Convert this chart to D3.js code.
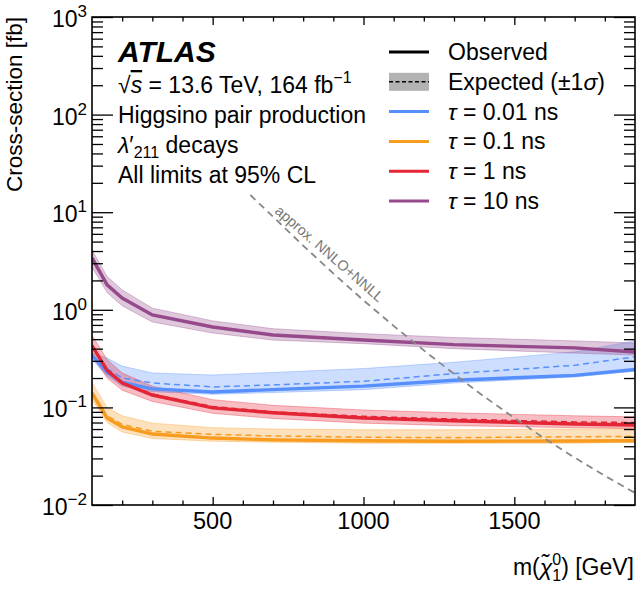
<!DOCTYPE html>
<html>
<head>
<meta charset="utf-8">
<script src="https://cdn.jsdelivr.net/npm/d3@7"></script>
<style>
  body { margin: 0; background: #fff; }
  svg text { font-family: "Liberation Sans", Arial, Helvetica, sans-serif; fill: #000; }
</style>
</head>
<body>
<svg id="chart" width="641" height="591"></svg>
<script>
// masses (GeV) where the limits were evaluated
const masses = [100, 150, 200, 300, 500, 700, 1000, 1300, 1700, 1900];

// tau = 0.01 ns
const obs001 = [0.34, 0.23, 0.18, 0.155, 0.144, 0.152, 0.165, 0.19, 0.213, 0.245];
const exp001 = [0.34, 0.25, 0.2, 0.178, 0.162, 0.17, 0.185, 0.222, 0.27, 0.33];
const hi001 = [0.36, 0.32, 0.265, 0.225, 0.215, 0.228, 0.25, 0.29, 0.37, 0.48];
const lo001 = [0.31, 0.21, 0.165, 0.145, 0.136, 0.142, 0.152, 0.178, 0.205, 0.235];

// tau = 0.1 ns
const obs01 = [0.14, 0.078, 0.063, 0.0533, 0.0485, 0.0465, 0.0455, 0.045, 0.0453, 0.0455];
const exp01 = [0.145, 0.082, 0.067, 0.057, 0.053, 0.051, 0.0495, 0.049, 0.05, 0.0505];
const hi01 = [0.18, 0.1, 0.082, 0.069, 0.062, 0.06, 0.059, 0.059, 0.06, 0.061];
const lo01 = [0.12, 0.07, 0.056, 0.048, 0.045, 0.044, 0.043, 0.043, 0.043, 0.044];

// tau = 1 ns
const obs1 = [0.43, 0.24, 0.178, 0.134, 0.099, 0.088, 0.078, 0.073, 0.0675, 0.066];
const exp1 = [0.42, 0.245, 0.18, 0.137, 0.102, 0.09, 0.081, 0.076, 0.071, 0.07];
const hi1 = [0.55, 0.31, 0.225, 0.165, 0.12, 0.105, 0.094, 0.088, 0.082, 0.08];
const lo1 = [0.34, 0.2, 0.15, 0.115, 0.087, 0.077, 0.069, 0.065, 0.062, 0.061];

// tau = 10 ns
const obs10 = [3.4, 1.8, 1.32, 0.885, 0.667, 0.552, 0.49, 0.44, 0.407, 0.37];
const exp10 = [3.3, 1.8, 1.32, 0.88, 0.665, 0.55, 0.49, 0.44, 0.405, 0.375];
const hi10 = [4.1, 2.2, 1.6, 1.04, 0.77, 0.64, 0.57, 0.52, 0.48, 0.457];
const lo10 = [2.75, 1.5, 1.1, 0.75, 0.578, 0.49, 0.45, 0.4, 0.36, 0.344];

// theory cross-section, approx. NNLO+NNLL
const theoryMass = [625, 700, 800, 900, 1000, 1100, 1200, 1300, 1400, 1500, 1600, 1700, 1800, 1900];
const theoryXsec = [15.0, 9.0, 4.55, 2.36, 1.25, 0.684, 0.384, 0.22, 0.129, 0.078, 0.048, 0.0306, 0.0199, 0.0133];

const seriesLabels = ['0.01', '0.1', '1', '10'];
const seriesColors = ['#5790fc', '#f89c20', '#e42536', '#964a8b'];

const xTicks = [500, 1000, 1500];
const yTicks = [1e-2, 1e-1, 1, 10, 100, 1000];
const yTickExp = ['\u22122', '\u22121', '0', '1', '2', '3'];

const series = [
  { obs: obs001, exp: exp001, hi: hi001, lo: lo001 },
  { obs: obs01, exp: exp01, hi: hi01, lo: lo01 },
  { obs: obs1, exp: exp1, hi: hi1, lo: lo1 },
  { obs: obs10, exp: exp10, hi: hi10, lo: lo10 },
].map((s, i) => ({ ...s, label: seriesLabels[i], color: seriesColors[i] }));

const L = 92, R = 635, T = 17, B = 505;
const svg = d3.select('#chart');

const x = d3.scaleLinear().domain([100, 1900]).range([L, R]);
const y = d3.scaleLog().domain([0.01, 1000]).range([B, T]);

svg.append('defs').append('clipPath').attr('id', 'clip')
  .append('rect').attr('x', L).attr('y', T).attr('width', R - L).attr('height', B - T);

const plot = svg.append('g').attr('clip-path', 'url(#clip)');

const band = d3.area()
  .x((d, i) => x(masses[i]))
  .y0((d) => y(d[0]))
  .y1((d) => y(d[1]));
const line = d3.line()
  .x((d, i) => x(masses[i]))
  .y((d) => y(d));

// bands first, then expected, then observed
series.forEach((s) => {
  plot.append('path')
    .datum(s.lo.map((v, i) => [v, s.hi[i]]))
    .attr('d', band)
    .attr('fill', s.color)
    .attr('fill-opacity', 0.3)
    .attr('stroke', s.color)
    .attr('stroke-opacity', 0.35)
    .attr('stroke-width', 1);
});
series.forEach((s) => {
  plot.append('path')
    .datum(s.exp)
    .attr('d', line)
    .attr('fill', 'none')
    .attr('stroke', s.color)
    .attr('stroke-width', 1.5)
    .attr('stroke-dasharray', '6,4');
});
series.forEach((s) => {
  plot.append('path')
    .datum(s.obs)
    .attr('d', line)
    .attr('fill', 'none')
    .attr('stroke', s.color)
    .attr('stroke-width', 3.4);
});

// theory line
const thLine = d3.line()
  .x((d, i) => x(theoryMass[i]))
  .y((d) => y(d));
plot.append('path')
  .datum(theoryXsec)
  .attr('d', thLine)
  .attr('fill', 'none')
  .attr('stroke', '#888')
  .attr('stroke-width', 1.8)
  .attr('stroke-dasharray', '7,5');

const tx = (x(theoryMass[2]) + x(theoryMass[3])) / 2 + 8;
const ty = (y(theoryXsec[2]) + y(theoryXsec[3])) / 2 - 2;
svg.append('text')
  .attr('transform', `translate(${tx},${ty}) rotate(41)`)
  .attr('text-anchor', 'middle')
  .style('font-size', '14.5px')
  .style('fill', '#777')
  .text('approx. NNLO+NNLL');

// axes: ticks pointing inward on all four sides
const yMinor = [];
for (let e = -2; e < 3; e++) for (let k = 2; k < 10; k++) yMinor.push(k * Math.pow(10, e));
const xMinor = d3.range(200, 1900, 100).filter((v) => v % 500 !== 0);

function ax(axis, tr) {
  const g = svg.append('g').attr('transform', tr).call(axis);
  g.select('.domain').remove();
  g.selectAll('text').remove();
  g.selectAll('line').attr('stroke', '#000').attr('stroke-width', 1.3);
  return g;
}
ax(d3.axisLeft(y).tickValues(yTicks).tickSize(-21), `translate(${L},0)`);
ax(d3.axisLeft(y).tickValues(yMinor).tickSize(-11), `translate(${L},0)`);
ax(d3.axisRight(y).tickValues(yTicks).tickSize(-21), `translate(${R},0)`);
ax(d3.axisRight(y).tickValues(yMinor).tickSize(-11), `translate(${R},0)`);
ax(d3.axisBottom(x).tickValues(xTicks).tickSize(-8), `translate(0,${B})`);
ax(d3.axisBottom(x).tickValues(xMinor).tickSize(-4.5), `translate(0,${B})`);
ax(d3.axisTop(x).tickValues(xTicks).tickSize(-8), `translate(0,${T})`);
ax(d3.axisTop(x).tickValues(xMinor).tickSize(-4.5), `translate(0,${T})`);

svg.append('rect')
  .attr('x', L).attr('y', T).attr('width', R - L).attr('height', B - T)
  .attr('fill', 'none').attr('stroke', '#000').attr('stroke-width', 1.6);

// tick labels
svg.selectAll('.xl').data(xTicks).enter().append('text')
  .attr('x', (d) => x(d)).attr('y', B + 24)
  .attr('text-anchor', 'middle')
  .style('font-size', '23.5px')
  .text((d) => d);

yTicks.forEach((v, i) => {
  const t = svg.append('text')
    .attr('x', 87).attr('y', y(v) + 10)
    .attr('text-anchor', 'end')
    .style('font-size', '23px');
  t.append('tspan').text('10');
  t.append('tspan').attr('dy', -10).style('font-size', '17px').text(yTickExp[i]);
});

// axis titles
svg.append('text')
  .attr('transform', `translate(22,${T}) rotate(-90)`)
  .attr('text-anchor', 'end')
  .style('font-size', '22.5px')
  .text('Cross-section [fb]');

const xt = svg.append('text')
  .attr('x', R - 1).attr('y', 575)
  .attr('text-anchor', 'end')
  .style('font-size', '23px');
xt.append('tspan').text('m(');
xt.append('tspan').style('font-style', 'italic').text('\u03c7\u0303');
xt.append('tspan').attr('dy', -10).style('font-size', '16px').text('0');
xt.append('tspan').attr('dx', -9).attr('dy', 16).style('font-size', '16px').text('1');
xt.append('tspan').attr('dy', -6).text(') [GeV]');

// ATLAS label and info
svg.append('text')
  .attr('x', 118).attr('y', 62)
  .style('font-size', '30px').style('font-weight', 'bold').style('font-style', 'italic')
  .text('ATLAS');

const info = 23;
const l1 = svg.append('text').attr('x', 118).attr('y', 93).style('font-size', info + 'px');
l1.append('tspan').text('\u221a');
l1.append('tspan').style('font-style', 'italic').style('text-decoration', 'overline').text('s');
l1.append('tspan').text(' = 13.6 TeV, 164 fb');
l1.append('tspan').attr('dy', -10).style('font-size', '16px').text('\u22121');

svg.append('text').attr('x', 118).attr('y', 123).style('font-size', info + 'px')
  .text('Higgsino pair production');
const l3 = svg.append('text').attr('x', 118).attr('y', 153).style('font-size', info + 'px');
l3.append('tspan').style('font-style', 'italic').text('\u03bb');
l3.append('tspan').text('\u2032');
l3.append('tspan').attr('dy', 5).style('font-size', '16px').text('211');
l3.append('tspan').attr('dy', -5).text(' decays');
svg.append('text').attr('x', 118).attr('y', 183).style('font-size', info + 'px')
  .text('All limits at 95% CL');

// legend
const lx0 = 389, lx1 = 429, ltx = 448;
const rowY = (i) => 52 + i * 29.8;
const leg = svg.append('g');

leg.append('line').attr('x1', lx0).attr('x2', lx1).attr('y1', rowY(0)).attr('y2', rowY(0))
  .attr('stroke', '#000').attr('stroke-width', 3);
leg.append('text').attr('x', ltx).attr('y', rowY(0) + 8).style('font-size', info + 'px').text('Observed');

leg.append('rect').attr('x', lx0).attr('y', rowY(1) - 9).attr('width', lx1 - lx0).attr('height', 18)
  .attr('fill', '#b3b3b3');
leg.append('line').attr('x1', lx0).attr('x2', lx1).attr('y1', rowY(1)).attr('y2', rowY(1))
  .attr('stroke', '#000').attr('stroke-width', 1.5).attr('stroke-dasharray', '4,2.5');
const le = leg.append('text').attr('x', ltx).attr('y', rowY(1) + 8).style('font-size', info + 'px');
le.append('tspan').text('Expected (\u00b11');
le.append('tspan').style('font-style', 'italic').text('\u03c3');
le.append('tspan').text(')');

series.forEach((s, i) => {
  const yy = rowY(i + 2);
  leg.append('line').attr('x1', lx0).attr('x2', lx1).attr('y1', yy).attr('y2', yy)
    .attr('stroke', s.color).attr('stroke-width', 3);
  const t = leg.append('text').attr('x', ltx).attr('y', yy + 8).style('font-size', info + 'px');
  t.append('tspan').style('font-style', 'italic').text('\u03c4');
  t.append('tspan').text(' = ' + s.label + ' ns');
});
</script>
</body>
</html>
